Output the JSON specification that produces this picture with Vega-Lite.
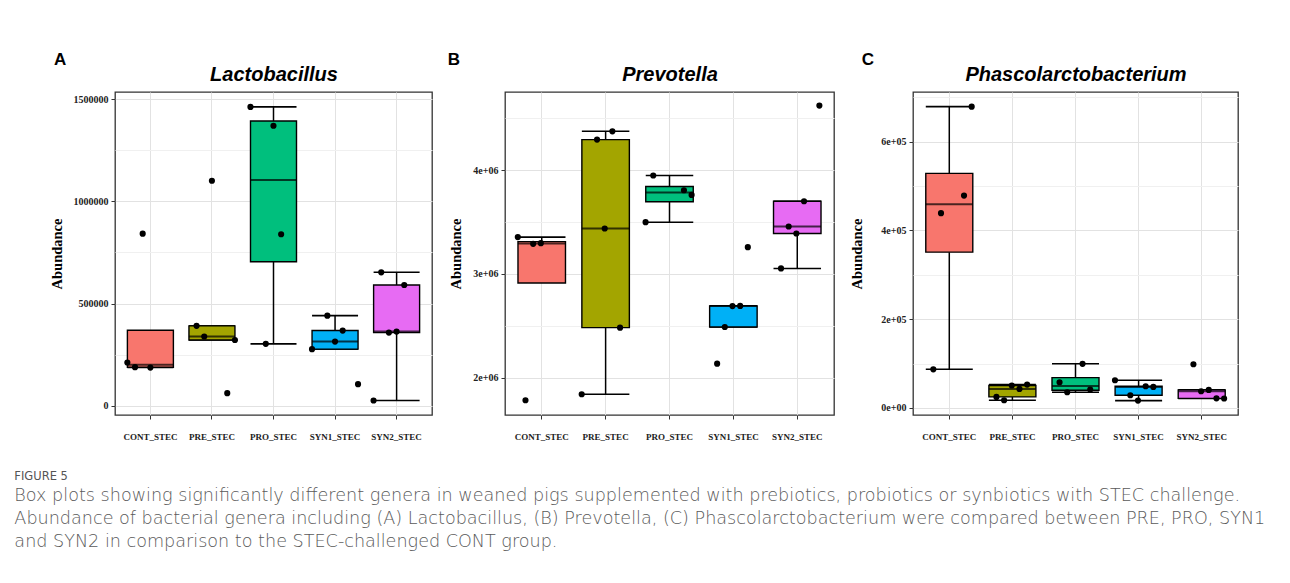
{
  "$schema": "https://vega.github.io/schema/vega-lite/v6.json",
  "background": "white",
  "padding": {"left": 14, "top": 50, "right": 0, "bottom": 20},
  "spacing": 14,
  "datasets": {
    "abund": [
      {"genus": "Lactobacillus", "group": "CONT_STEC", "sample": 1, "abundance": 212000},
      {"genus": "Lactobacillus", "group": "CONT_STEC", "sample": 2, "abundance": 189000},
      {"genus": "Lactobacillus", "group": "CONT_STEC", "sample": 3, "abundance": 842000},
      {"genus": "Lactobacillus", "group": "CONT_STEC", "sample": 4, "abundance": 187000},
      {"genus": "Lactobacillus", "group": "PRE_STEC", "sample": 2, "abundance": 391000},
      {"genus": "Lactobacillus", "group": "PRE_STEC", "sample": 3, "abundance": 339000},
      {"genus": "Lactobacillus", "group": "PRE_STEC", "sample": 4, "abundance": 1101000},
      {"genus": "Lactobacillus", "group": "PRE_STEC", "sample": 6, "abundance": 62000},
      {"genus": "Lactobacillus", "group": "PRE_STEC", "sample": 7, "abundance": 322000},
      {"genus": "Lactobacillus", "group": "PRO_STEC", "sample": 1, "abundance": 1462000},
      {"genus": "Lactobacillus", "group": "PRO_STEC", "sample": 3, "abundance": 303000},
      {"genus": "Lactobacillus", "group": "PRO_STEC", "sample": 4, "abundance": 1370000},
      {"genus": "Lactobacillus", "group": "PRO_STEC", "sample": 5, "abundance": 839000},
      {"genus": "Lactobacillus", "group": "SYN1_STEC", "sample": 1, "abundance": 277000},
      {"genus": "Lactobacillus", "group": "SYN1_STEC", "sample": 3, "abundance": 441000},
      {"genus": "Lactobacillus", "group": "SYN1_STEC", "sample": 4, "abundance": 314000},
      {"genus": "Lactobacillus", "group": "SYN1_STEC", "sample": 5, "abundance": 368000},
      {"genus": "Lactobacillus", "group": "SYN1_STEC", "sample": 7, "abundance": 106000},
      {"genus": "Lactobacillus", "group": "SYN2_STEC", "sample": 1, "abundance": 26000},
      {"genus": "Lactobacillus", "group": "SYN2_STEC", "sample": 2, "abundance": 653000},
      {"genus": "Lactobacillus", "group": "SYN2_STEC", "sample": 3, "abundance": 358000},
      {"genus": "Lactobacillus", "group": "SYN2_STEC", "sample": 4, "abundance": 363000},
      {"genus": "Lactobacillus", "group": "SYN2_STEC", "sample": 5, "abundance": 591000},

      {"genus": "Prevotella", "group": "CONT_STEC", "sample": 1, "abundance": 3355000},
      {"genus": "Prevotella", "group": "CONT_STEC", "sample": 2, "abundance": 1782000},
      {"genus": "Prevotella", "group": "CONT_STEC", "sample": 3, "abundance": 3290000},
      {"genus": "Prevotella", "group": "CONT_STEC", "sample": 4, "abundance": 3297000},
      {"genus": "Prevotella", "group": "PRE_STEC", "sample": 1, "abundance": 1840000},
      {"genus": "Prevotella", "group": "PRE_STEC", "sample": 3, "abundance": 4295000},
      {"genus": "Prevotella", "group": "PRE_STEC", "sample": 4, "abundance": 3438000},
      {"genus": "Prevotella", "group": "PRE_STEC", "sample": 5, "abundance": 4375000},
      {"genus": "Prevotella", "group": "PRE_STEC", "sample": 6, "abundance": 2482000},
      {"genus": "Prevotella", "group": "PRO_STEC", "sample": 1, "abundance": 3499000},
      {"genus": "Prevotella", "group": "PRO_STEC", "sample": 2, "abundance": 3949000},
      {"genus": "Prevotella", "group": "PRO_STEC", "sample": 6, "abundance": 3807000},
      {"genus": "Prevotella", "group": "PRO_STEC", "sample": 7, "abundance": 3762000},
      {"genus": "Prevotella", "group": "SYN1_STEC", "sample": 2, "abundance": 2135000},
      {"genus": "Prevotella", "group": "SYN1_STEC", "sample": 3, "abundance": 2488000},
      {"genus": "Prevotella", "group": "SYN1_STEC", "sample": 4, "abundance": 2690000},
      {"genus": "Prevotella", "group": "SYN1_STEC", "sample": 5, "abundance": 2692000},
      {"genus": "Prevotella", "group": "SYN1_STEC", "sample": 6, "abundance": 3258000},
      {"genus": "Prevotella", "group": "SYN2_STEC", "sample": 2, "abundance": 3053000},
      {"genus": "Prevotella", "group": "SYN2_STEC", "sample": 3, "abundance": 3457000},
      {"genus": "Prevotella", "group": "SYN2_STEC", "sample": 4, "abundance": 3390000},
      {"genus": "Prevotella", "group": "SYN2_STEC", "sample": 5, "abundance": 3701000},
      {"genus": "Prevotella", "group": "SYN2_STEC", "sample": 7, "abundance": 4623000},

      {"genus": "Phascolarctobacterium", "group": "CONT_STEC", "sample": 2, "abundance": 87000},
      {"genus": "Phascolarctobacterium", "group": "CONT_STEC", "sample": 3, "abundance": 439000},
      {"genus": "Phascolarctobacterium", "group": "CONT_STEC", "sample": 6, "abundance": 478500},
      {"genus": "Phascolarctobacterium", "group": "CONT_STEC", "sample": 7, "abundance": 679000},
      {"genus": "Phascolarctobacterium", "group": "PRE_STEC", "sample": 2, "abundance": 24800},
      {"genus": "Phascolarctobacterium", "group": "PRE_STEC", "sample": 3, "abundance": 17300},
      {"genus": "Phascolarctobacterium", "group": "PRE_STEC", "sample": 4, "abundance": 50400},
      {"genus": "Phascolarctobacterium", "group": "PRE_STEC", "sample": 5, "abundance": 42800},
      {"genus": "Phascolarctobacterium", "group": "PRE_STEC", "sample": 6, "abundance": 52600},
      {"genus": "Phascolarctobacterium", "group": "PRO_STEC", "sample": 2, "abundance": 57800},
      {"genus": "Phascolarctobacterium", "group": "PRO_STEC", "sample": 3, "abundance": 35300},
      {"genus": "Phascolarctobacterium", "group": "PRO_STEC", "sample": 5, "abundance": 99400},
      {"genus": "Phascolarctobacterium", "group": "PRO_STEC", "sample": 6, "abundance": 41300},
      {"genus": "Phascolarctobacterium", "group": "SYN1_STEC", "sample": 1, "abundance": 62300},
      {"genus": "Phascolarctobacterium", "group": "SYN1_STEC", "sample": 3, "abundance": 28600},
      {"genus": "Phascolarctobacterium", "group": "SYN1_STEC", "sample": 4, "abundance": 16500},
      {"genus": "Phascolarctobacterium", "group": "SYN1_STEC", "sample": 5, "abundance": 48800},
      {"genus": "Phascolarctobacterium", "group": "SYN1_STEC", "sample": 6, "abundance": 47300},
      {"genus": "Phascolarctobacterium", "group": "SYN2_STEC", "sample": 3, "abundance": 98300},
      {"genus": "Phascolarctobacterium", "group": "SYN2_STEC", "sample": 4, "abundance": 37600},
      {"genus": "Phascolarctobacterium", "group": "SYN2_STEC", "sample": 5, "abundance": 40600},
      {"genus": "Phascolarctobacterium", "group": "SYN2_STEC", "sample": 6, "abundance": 21500},
      {"genus": "Phascolarctobacterium", "group": "SYN2_STEC", "sample": 7, "abundance": 21100}
    ]
  },
  "title": {
    "text": "FIGURE 5",
    "subtitle": [
      "Box plots showing significantly different genera in weaned pigs supplemented with prebiotics, probiotics or synbiotics with STEC challenge.",
      "Abundance of bacterial genera including (A) Lactobacillus, (B) Prevotella, (C) Phascolarctobacterium were compared between PRE, PRO, SYN1",
      "and SYN2 in comparison to the STEC-challenged CONT group."
    ],
    "orient": "bottom",
    "anchor": "start",
    "frame": "bounds",
    "dx": -34,
    "offset": 29,
    "font": "DejaVu Sans",
    "fontSize": 11.5,
    "fontWeight": "normal",
    "color": "#555555",
    "subtitleFont": "DejaVu Sans",
    "subtitleFontSize": 17.6,
    "subtitleFontWeight": 200,
    "subtitleColor": "#5a5a5a",
    "subtitleLineHeight": 23,
    "subtitlePadding": 5
  },
  "hconcat": [
    {
      "width": 317,
      "height": 323,
      "title": {"text": "A", "dx": 5},
      "data": {"name": "abund"},
      "transform": [{"filter": "datum.genus === 'Lactobacillus'"}],
      "encoding": {
        "y": {
          "field": "abundance", "type": "quantitative",
          "scale": {"domain": [-45000, 1535000], "nice": false, "zero": false},
          "axis": {
            "title": "Abundance", "titlePadding": 9,
            "values": [0, 250000, 500000, 750000, 1000000, 1250000, 1500000],
            "labelExpr": "datum.value % 500000 === 0 ? format(datum.value, 'd') : ''",
            "gridColor": {"condition": {"test": "datum.value % 500000 === 0", "value": "#e2e2e2"}, "value": "#f0f0f0"},
            "tickOpacity": {"condition": {"test": "datum.value % 500000 === 0", "value": 1}, "value": 0}
          }
        }
      },
      "layer": [
        {
          "mark": {"type": "boxplot", "extent": 1.5, "size": 46, "outliers": false,
            "box": {"stroke": "black", "strokeWidth": 1.4},
            "median": {"color": "black", "thickness": 2},
            "rule": {"color": "black", "strokeWidth": 1.5},
            "ticks": {"color": "black", "size": 46, "thickness": 1.6}},
          "encoding": {
            "x": {"field": "group", "type": "nominal", "scale": {"type": "band", "paddingInner": 0.25, "paddingOuter": 0.2},
              "axis": {"orient": "bottom", "title": null, "labelAngle": 0, "grid": true}},
            "color": {"field": "group", "type": "nominal", "legend": null,
              "scale": {"domain": ["CONT_STEC", "PRE_STEC", "PRO_STEC", "SYN1_STEC", "SYN2_STEC"], "range": ["#F8766D", "#A3A500", "#00BF7D", "#00B0F6", "#E76BF3"]}}
          }
        },
        {
          "mark": {"type": "point", "filled": true, "color": "black", "size": 38, "opacity": 1},
          "encoding": {
            "x": {"field": "group", "type": "nominal", "scale": {"type": "band", "paddingInner": 0.25, "paddingOuter": 0.2},
              "axis": {"orient": "top", "title": "Lactobacillus", "labels": false, "ticks": false, "domain": false, "grid": false}},
            "xOffset": {"field": "sample", "type": "nominal", "scale": {"domain": [1, 2, 3, 4, 5, 6, 7], "range": [-3.8, 49.9]}}
          }
        }
      ],
      "resolve": {"axis": {"x": "independent"}}
    },
    {
      "width": 329,
      "height": 323,
      "title": {"text": "B", "dx": -1},
      "data": {"name": "abund"},
      "transform": [{"filter": "datum.genus === 'Prevotella'"}],
      "encoding": {
        "y": {
          "field": "abundance", "type": "quantitative",
          "scale": {"domain": [1640000, 4754000], "nice": false, "zero": false},
          "axis": {
            "title": "Abundance", "titlePadding": 9,
            "values": [2000000, 2500000, 3000000, 3500000, 4000000, 4500000],
            "labelExpr": "datum.value % 1000000 === 0 ? (datum.value / 1000000) + 'e+06' : ''",
            "gridColor": {"condition": {"test": "datum.value % 1000000 === 0", "value": "#e2e2e2"}, "value": "#f0f0f0"},
            "tickOpacity": {"condition": {"test": "datum.value % 1000000 === 0", "value": 1}, "value": 0}
          }
        }
      },
      "layer": [
        {
          "mark": {"type": "boxplot", "extent": 1.5, "size": 47.5, "outliers": false,
            "box": {"stroke": "black", "strokeWidth": 1.4},
            "median": {"color": "black", "thickness": 2},
            "rule": {"color": "black", "strokeWidth": 1.5},
            "ticks": {"color": "black", "size": 47.5, "thickness": 1.6}},
          "encoding": {
            "x": {"field": "group", "type": "nominal", "scale": {"type": "band", "paddingInner": 0.25, "paddingOuter": 0.2},
              "axis": {"orient": "bottom", "title": null, "labelAngle": 0, "grid": true}},
            "color": {"field": "group", "type": "nominal", "legend": null,
              "scale": {"domain": ["CONT_STEC", "PRE_STEC", "PRO_STEC", "SYN1_STEC", "SYN2_STEC"], "range": ["#F8766D", "#A3A500", "#00BF7D", "#00B0F6", "#E76BF3"]}}
          }
        },
        {
          "mark": {"type": "point", "filled": true, "color": "black", "size": 38, "opacity": 1},
          "encoding": {
            "x": {"field": "group", "type": "nominal", "scale": {"type": "band", "paddingInner": 0.25, "paddingOuter": 0.2},
              "axis": {"orient": "top", "title": "Prevotella", "labels": false, "ticks": false, "domain": false, "grid": false}},
            "xOffset": {"field": "sample", "type": "nominal", "scale": {"domain": [1, 2, 3, 4, 5, 6, 7], "range": [-3.8, 51.3]}}
          }
        }
      ],
      "resolve": {"axis": {"x": "independent"}}
    },
    {
      "width": 325,
      "height": 323,
      "title": {"text": "C", "dx": 12},
      "data": {"name": "abund"},
      "transform": [{"filter": "datum.genus === 'Phascolarctobacterium'"}],
      "encoding": {
        "y": {
          "field": "abundance", "type": "quantitative",
          "scale": {"domain": [-16000, 712000], "nice": false, "zero": false},
          "axis": {
            "title": "Abundance", "titlePadding": 16,
            "values": [0, 100000, 200000, 300000, 400000, 500000, 600000, 700000],
            "labelExpr": "datum.value === 0 ? '0e+00' : (datum.value % 200000 === 0 ? (datum.value / 100000) + 'e+05' : '')",
            "gridColor": {"condition": {"test": "datum.value % 200000 === 0", "value": "#e2e2e2"}, "value": "#f0f0f0"},
            "tickOpacity": {"condition": {"test": "datum.value % 200000 === 0", "value": 1}, "value": 0}
          }
        }
      },
      "layer": [
        {
          "mark": {"type": "boxplot", "extent": 1.5, "size": 47, "outliers": false,
            "box": {"stroke": "black", "strokeWidth": 1.4},
            "median": {"color": "black", "thickness": 2},
            "rule": {"color": "black", "strokeWidth": 1.5},
            "ticks": {"color": "black", "size": 47, "thickness": 1.6}},
          "encoding": {
            "x": {"field": "group", "type": "nominal", "scale": {"type": "band", "paddingInner": 0.25, "paddingOuter": 0.2},
              "axis": {"orient": "bottom", "title": null, "labelAngle": 0, "grid": true}},
            "color": {"field": "group", "type": "nominal", "legend": null,
              "scale": {"domain": ["CONT_STEC", "PRE_STEC", "PRO_STEC", "SYN1_STEC", "SYN2_STEC"], "range": ["#F8766D", "#A3A500", "#00BF7D", "#00B0F6", "#E76BF3"]}}
          }
        },
        {
          "mark": {"type": "point", "filled": true, "color": "black", "size": 38, "opacity": 1},
          "encoding": {
            "x": {"field": "group", "type": "nominal", "scale": {"type": "band", "paddingInner": 0.25, "paddingOuter": 0.2},
              "axis": {"orient": "top", "title": "Phascolarctobacterium", "labels": false, "ticks": false, "domain": false, "grid": false}},
            "xOffset": {"field": "sample", "type": "nominal", "scale": {"domain": [1, 2, 3, 4, 5, 6, 7], "range": [-3.8, 50.7]}}
          }
        }
      ],
      "resolve": {"axis": {"x": "independent"}}
    }
  ],
  "config": {
    "view": {"stroke": "#333333", "strokeWidth": 1.3},
    "title": {"anchor": "start", "frame": "bounds", "font": "Liberation Sans", "fontSize": 17, "fontWeight": "bold", "color": "black", "offset": -5},
    "axis": {
      "domain": false,
      "labelFont": "Liberation Serif", "labelFontWeight": "bold", "labelFontSize": 10, "labelColor": "#222222",
      "titleFont": "Liberation Serif", "titleFontWeight": "bold", "titleFontSize": 14.5, "titleColor": "black",
      "tickColor": "#333333", "tickSize": 4, "labelPadding": 3,
      "gridColor": "#e2e2e2", "gridWidth": 1
    },
    "axisBottom": {"labelFontSize": 9, "labelPadding": 13},
    "axisTop": {"titleFont": "Liberation Sans", "titleFontStyle": "italic", "titleFontWeight": "bold", "titleFontSize": 20, "titlePadding": 8, "titleColor": "black"}
  }
}
